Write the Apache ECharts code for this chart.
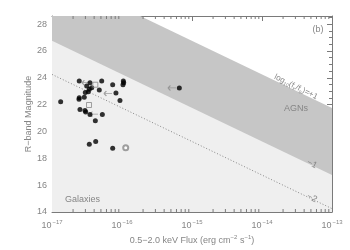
<!DOCTYPE html>
<html><head><meta charset="utf-8">
<script src="https://cdn.jsdelivr.net/npm/echarts@6/dist/echarts.min.js"></script>
<style>html,body{margin:0;padding:0;background:#fff}#c{width:350px;height:250px}</style>
</head><body><div id="c"></div>
<script>
// ---- data ----
const xTickExponents = [-17, -16, -15, -14, -13];
const yTickValues = [14, 16, 18, 20, 22, 24, 26, 28];
const xMinorTicks = [2e-17,3e-17,4e-17,5e-17,6e-17,7e-17,8e-17,9e-17,
  2e-16,3e-16,4e-16,5e-16,6e-16,7e-16,8e-16,9e-16,
  2e-15,3e-15,4e-15,5e-15,6e-15,7e-15,8e-15,9e-15,
  2e-14,3e-14,4e-14,5e-14,6e-14,7e-14,8e-14,9e-14];
// ratio lines log(fx/fo)=+1,-1,-2 : endpoints [flux, R]
const linePlus1 = [[1e-17, 31.75], [1e-13, 21.75]];
const lineMinus1 = [[1e-17, 26.75], [1e-13, 16.75]];
const lineMinus2 = [[1e-17, 24.25], [1e-13, 14.25]];
// detected sources
const filledFlux = [1.33e-17,2.45e-17,3.49e-17,3.13e-17,3.69e-17,3.41e-17,2.99e-17,3.30e-17,5.13e-17,4.74e-17,
  7.36e-17,1.045e-16,1.057e-16,1.033e-16,8.20e-17,9.35e-17,2.45e-17,2.43e-17,2.89e-17,2.51e-17,
  2.96e-17,3.03e-17,3.49e-17,5.24e-17,4.16e-17,3.41e-17,4.21e-17,7.36e-17,6.59e-16];
const filledR = [22.22,23.75,23.63,23.39,23.26,23.14,22.90,22.95,23.75,23.09,
  23.48,23.75,23.63,23.48,22.87,22.31,22.51,22.39,22.55,21.64,
  21.56,21.44,21.27,21.27,20.80,19.05,19.25,18.74,23.24];
const squareFlux = [4.16e-17, 3.38e-17];
const squareR = [23.48, 21.97];
const circleFlux = [1.13e-16];
const circleR = [18.79];
const limitFlux = [3.06e-17, 6.31e-17, 3.98e-17, 5.18e-16];
const limitR = [23.63, 22.83, 21.29, 23.24];

const Y_MIN = 14, Y_MAX = 28.6;
const grey = '#7a7a7a';
const tgrey = '#858585';
const font = 'Liberation Sans';

function zip(a, b) { return a.map((v, i) => [v, b[i]]); }

const chart = echarts.init(document.getElementById('c'), null, {renderer: 'canvas'});

const axisCommon = {
  axisLine: {show: true, lineStyle: {color: grey, width: 1}},
  splitLine: {show: false}
};

const option = {
  animation: false,
  backgroundColor: '#fff',
  grid: {left: 52, right: 18, top: 16, bottom: 34, show: true, backgroundColor: '#fff', borderWidth: 0},
  textStyle: {fontFamily: font},
  xAxis: [{
    type: 'log', logBase: 10, min: 1e-17, max: 1e-13, position: 'bottom',
    ...axisCommon,
    axisTick: {show: true, inside: true, length: 5, lineStyle: {color: grey}},
    axisLabel: {
      color: tgrey, fontSize: 9, margin: 7, fontFamily: font,
      formatter: v => {
        const e = Math.round(Math.log10(v));
        return xTickExponents.includes(e) ? '10{s|' + String(e).replace('-', '−') + '}' : '';
      },
      rich: {s: {fontSize: 6, verticalAlign: 'top', padding: [0, 0, 7, 1], color: tgrey, fontFamily: font}}
    },
    name: '0.5−2.0 keV Flux (erg cm{s|−2} s{s|−1})',
    nameLocation: 'middle', nameGap: 22, nameMoveOverlap: false,
    nameTextStyle: {color: tgrey, fontSize: 9, fontFamily: font,
      rich: {s: {fontSize: 6, verticalAlign: 'top', padding: [0, 0, 7, 0], color: tgrey, fontFamily: font}}}
  }, {
    type: 'log', logBase: 10, min: 1e-17, max: 1e-13, position: 'top',
    ...axisCommon,
    axisTick: {show: true, inside: true, length: 5, lineStyle: {color: grey}},
    axisLabel: {show: false}
  }],
  yAxis: [{
    type: 'value', min: Y_MIN, max: Y_MAX, interval: 2, position: 'left',
    ...axisCommon,
    axisTick: {show: true, inside: true, length: 5, lineStyle: {color: grey}},
    minorTick: {show: true, splitNumber: 4, length: 3, lineStyle: {color: grey}},
    axisLabel: {color: tgrey, fontSize: 9, margin: 5, fontFamily: font,
      formatter: v => yTickValues.includes(v) ? String(v) : ''},
    name: 'R−band Magnitude', nameLocation: 'middle', nameGap: 19, nameRotate: 90, nameMoveOverlap: false,
    nameTextStyle: {color: tgrey, fontSize: 9, fontFamily: font}
  }, {
    type: 'value', min: Y_MIN, max: Y_MAX, interval: 2, position: 'right',
    ...axisCommon,
    axisTick: {show: true, inside: true, length: 5, lineStyle: {color: grey}},
    minorTick: {show: true, splitNumber: 4, length: 3, lineStyle: {color: grey}},
    axisLabel: {show: false}
  }],
  series: [
    {type: 'line', data: linePlus1, symbol: 'none', clip: true, z: 1,
      lineStyle: {width: 0}, areaStyle: {color: '#c6c6c6', origin: 'start', opacity: 1}},
    {type: 'line', data: lineMinus1, symbol: 'none', clip: true, z: 2,
      lineStyle: {width: 0}, areaStyle: {color: '#efefef', origin: 'start', opacity: 1}},
    {type: 'line', data: lineMinus2, symbol: 'none', clip: true, z: 3,
      lineStyle: {width: 1, type: [1, 2], color: '#888'}},
    {type: 'custom', z: 4, silent: true, clip: false,
      data: xMinorTicks.map(v => [v, Y_MIN]),
      renderItem: (params, api) => {
        const p = api.coord([api.value(0), Y_MIN]);
        const cs = params.coordSys;
        return {type: 'group', children: [
          {type: 'line', shape: {x1: p[0], y1: cs.y + cs.height, x2: p[0], y2: cs.y + cs.height - 3}, style: {stroke: grey, lineWidth: 1}},
          {type: 'line', shape: {x1: p[0], y1: cs.y, x2: p[0], y2: cs.y + 3}, style: {stroke: grey, lineWidth: 1}}
        ]};
      },
      encode: {x: 0, y: 1}
    },
    {type: 'scatter', z: 6, data: zip(filledFlux, filledR), symbol: 'circle', symbolSize: 5,
      itemStyle: {color: '#000'}},
    {type: 'scatter', z: 6, data: zip(squareFlux, squareR), symbol: 'rect', symbolSize: 5,
      itemStyle: {color: 'rgba(0,0,0,0)', borderColor: '#888', borderWidth: 1}},
    {type: 'scatter', z: 6, data: zip(circleFlux, circleR), symbol: 'emptyCircle', symbolSize: 5,
      itemStyle: {color: '#888', borderColor: '#888', borderWidth: 1}},
    {type: 'scatter', z: 5, data: zip(limitFlux, limitR),
      symbol: 'path://M0,4L10,4M0,4L3,1M0,4L3,7', symbolSize: [8, 5], symbolKeepAspect: false,
      itemStyle: {color: 'rgba(0,0,0,0)', borderColor: '#888', borderWidth: 1}}
  ],
  graphic: [
    {type: 'text', x: 318, y: 30, style: {text: '(b)', fill: tgrey, font: '9px ' + font, align: 'center', verticalAlign: 'middle'}, z: 10},
    {type: 'text', x: 296, y: 87, rotation: -0.455,
      style: {text: 'log{s|10}(f{s|x}/f{s|o})=+1', fill: tgrey, font: '8px ' + font, align: 'center', verticalAlign: 'middle',
        rich: {s: {fontSize: 5, verticalAlign: 'bottom', padding: [5, 0, 0, 0], fill: tgrey, fontFamily: font}}}, z: 10},
    {type: 'text', x: 296, y: 109, style: {text: 'AGNs', fill: tgrey, font: '9px ' + font, align: 'center', verticalAlign: 'middle'}, z: 10},
    {type: 'text', x: 312, y: 164, rotation: -0.455, style: {text: '−1', fill: tgrey, font: '9px ' + font, align: 'center', verticalAlign: 'middle'}, z: 10},
    {type: 'text', x: 312, y: 198, rotation: -0.455, style: {text: '−2', fill: tgrey, font: '9px ' + font, align: 'center', verticalAlign: 'middle'}, z: 10},
    {type: 'text', x: 65, y: 200, style: {text: 'Galaxies', fill: tgrey, font: '9px ' + font, align: 'left', verticalAlign: 'middle'}, z: 10}
  ]
};
chart.setOption(option);
</script></body></html>
